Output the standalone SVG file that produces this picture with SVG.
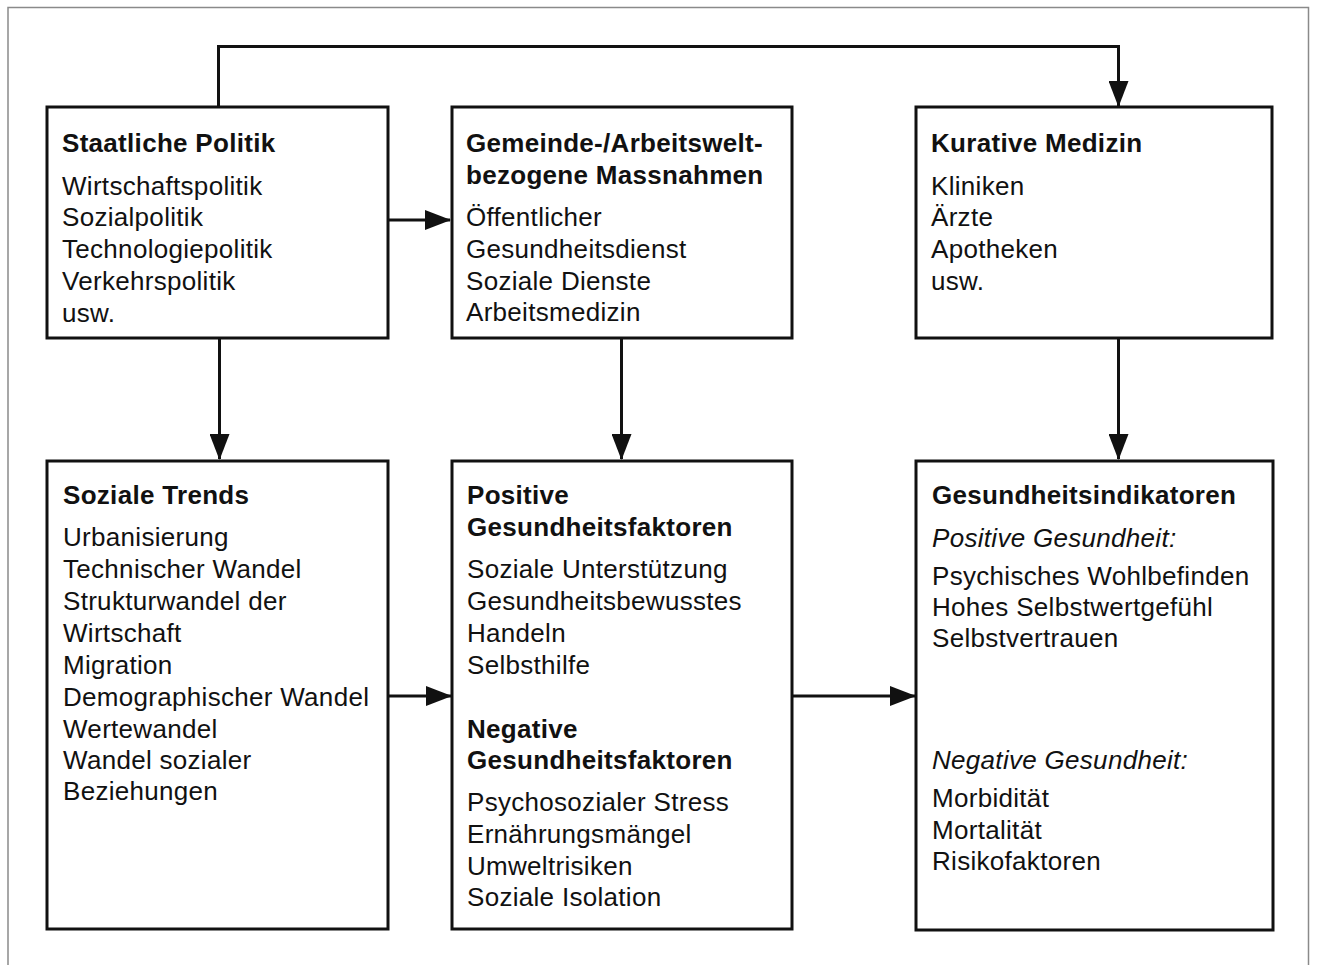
<svg xmlns="http://www.w3.org/2000/svg" width="1317" height="965" viewBox="0 0 1317 965">
<style>
.frame{fill:none;stroke:#8a8a8a;stroke-width:1.5}
.box{fill:#fff;stroke:#111;stroke-width:3}
.con{fill:none;stroke:#111;stroke-width:3}
text{font-family:"Liberation Sans",Arial,sans-serif;font-size:26px;fill:#111;letter-spacing:0.3px}
.t{font-weight:bold;letter-spacing:0.3px}
.i{font-style:italic}
</style>
<defs>
<marker id="ah" markerUnits="userSpaceOnUse" markerWidth="26" markerHeight="20" refX="25" refY="10" orient="auto">
<path d="M0,0 L26,10 L0,20 z" fill="#111"/>
</marker>
</defs>
<rect width="1317" height="965" fill="#fff"/>
<path class="frame" d="M8,980 V7.5 H1308.5 V980"/>
<g id="connectors">
<path class="con" d="M218.5,107 V46.5 H1118.5 V106" marker-end="url(#ah)"/>
<path class="con" d="M388,220 H450" marker-end="url(#ah)"/>
<path class="con" d="M219.5,338 V459" marker-end="url(#ah)"/>
<path class="con" d="M621.5,338 V459" marker-end="url(#ah)"/>
<path class="con" d="M1118.5,338 V459" marker-end="url(#ah)"/>
<path class="con" d="M388,696 H451" marker-end="url(#ah)"/>
<path class="con" d="M792,696 H915" marker-end="url(#ah)"/>
</g>
<g id="staatliche-politik">
<rect class="box" x="47" y="107" width="341" height="231"/>
<text class="t" x="62" y="152">Staatliche Politik</text>
<text x="62" y="194.5">Wirtschaftspolitik</text>
<text x="62" y="226">Sozialpolitik</text>
<text x="62" y="258">Technologiepolitik</text>
<text x="62" y="289.5">Verkehrspolitik</text>
<text x="62" y="321.5">usw.</text>
</g>
<g id="gemeinde-massnahmen">
<rect class="box" x="452" y="107" width="340" height="231"/>
<text class="t" x="466" y="152">Gemeinde-/Arbeitswelt-</text>
<text class="t" x="466" y="184">bezogene Massnahmen</text>
<text x="466" y="226">Öffentlicher</text>
<text x="466" y="257.5">Gesundheitsdienst</text>
<text x="466" y="289.5">Soziale Dienste</text>
<text x="466" y="321">Arbeitsmedizin</text>
</g>
<g id="kurative-medizin">
<rect class="box" x="916" y="107" width="356" height="231"/>
<text class="t" x="931" y="152">Kurative Medizin</text>
<text x="931" y="194.5">Kliniken</text>
<text x="931" y="226">Ärzte</text>
<text x="931" y="257.5">Apotheken</text>
<text x="931" y="289.5">usw.</text>
</g>
<g id="soziale-trends">
<rect class="box" x="47" y="461" width="341" height="468"/>
<text class="t" x="63" y="504">Soziale Trends</text>
<text x="63" y="546">Urbanisierung</text>
<text x="63" y="578">Technischer Wandel</text>
<text x="63" y="610">Strukturwandel der</text>
<text x="63" y="642">Wirtschaft</text>
<text x="63" y="674">Migration</text>
<text x="63" y="706">Demographischer Wandel</text>
<text x="63" y="737.5">Wertewandel</text>
<text x="63" y="769">Wandel sozialer</text>
<text x="63" y="800">Beziehungen</text>
</g>
<g id="gesundheitsfaktoren">
<rect class="box" x="452" y="461" width="340" height="468"/>
<text class="t" x="467" y="504">Positive</text>
<text class="t" x="467" y="535.5">Gesundheitsfaktoren</text>
<text x="467" y="578">Soziale Unterstützung</text>
<text x="467" y="609.5">Gesundheitsbewusstes</text>
<text x="467" y="641.5">Handeln</text>
<text x="467" y="673.5">Selbsthilfe</text>
<text class="t" x="467" y="737.5">Negative</text>
<text class="t" x="467" y="769">Gesundheitsfaktoren</text>
<text x="467" y="811">Psychosozialer Stress</text>
<text x="467" y="842.5">Ernährungsmängel</text>
<text x="467" y="874.5">Umweltrisiken</text>
<text x="467" y="906">Soziale Isolation</text>
</g>
<g id="gesundheitsindikatoren">
<rect class="box" x="916" y="461" width="357" height="469"/>
<text class="t" x="932" y="504">Gesundheitsindikatoren</text>
<text class="i" x="932" y="547">Positive Gesundheit:</text>
<text x="932" y="585">Psychisches Wohlbefinden</text>
<text x="932" y="616">Hohes Selbstwertgefühl</text>
<text x="932" y="647">Selbstvertrauen</text>
<text class="i" x="932" y="769">Negative Gesundheit:</text>
<text x="932" y="807">Morbidität</text>
<text x="932" y="838.5">Mortalität</text>
<text x="932" y="870">Risikofaktoren</text>
</g>
</svg>
